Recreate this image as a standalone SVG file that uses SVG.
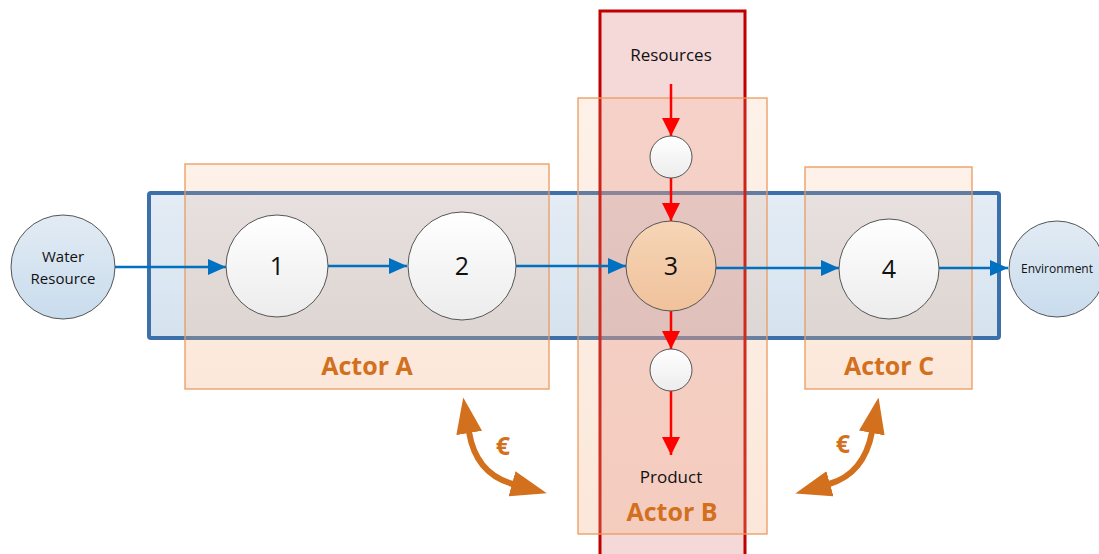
<svg xmlns="http://www.w3.org/2000/svg" width="1099" height="554" viewBox="0 0 1099 554">
<defs>
<linearGradient id="gBlue" x1="0" y1="0" x2="0" y2="1"><stop offset="0" stop-color="#e4ecf5"/><stop offset="1" stop-color="#d5e3ef"/></linearGradient>
<linearGradient id="gActor" x1="0" y1="0" x2="0" y2="1"><stop offset="0" stop-color="#f4b183" stop-opacity="0.18"/><stop offset="1" stop-color="#f4b183" stop-opacity="0.3"/></linearGradient>
<linearGradient id="gWhite" x1="0" y1="0" x2="0" y2="1"><stop offset="0" stop-color="#ffffff"/><stop offset="1" stop-color="#ececec"/></linearGradient>
<linearGradient id="gOrange" x1="0" y1="0" x2="0" y2="1"><stop offset="0" stop-color="#f6d5b6"/><stop offset="1" stop-color="#f0c29c"/></linearGradient>
<linearGradient id="gLight" x1="0" y1="0" x2="0" y2="1"><stop offset="0" stop-color="#e2ebf4"/><stop offset="1" stop-color="#c9dced"/></linearGradient>
<marker id="aBlue" markerUnits="userSpaceOnUse" markerWidth="18" markerHeight="16" viewBox="0 0 18 16" refX="18" refY="8" orient="auto"><path d="M0,0 L18,8 L0,16 z" fill="#0070c0"/></marker>
<marker id="aRed" markerUnits="userSpaceOnUse" markerWidth="18" markerHeight="18" viewBox="0 0 18 18" refX="18" refY="9" orient="auto"><path d="M0,0 L18,9 L0,18 z" fill="#ff0000"/></marker>
<marker id="aEuro" markerUnits="userSpaceOnUse" markerWidth="36" markerHeight="26" viewBox="0 0 36 26" refX="1" refY="13" orient="auto-start-reverse"><path d="M0,0 L36,13 L0,26 z" fill="#d2701e"/></marker>
<style>
.ln{font-family:"Open Sans","Liberation Sans",sans-serif;fill:#111;text-anchor:middle}
.actor{font-family:"Open Sans","Liberation Sans",sans-serif;font-weight:bold;fill:#d2701e;text-anchor:middle;font-size:25px}
.abox{fill:url(#gActor);stroke:#ec9a5e;stroke-width:1.3}
.nd{fill:url(#gWhite);stroke:#555;stroke-width:1}
.blue{stroke:#0070c0;stroke-width:2.5;fill:none;marker-end:url(#aBlue)}
.red{stroke:#ff0000;stroke-width:2.5;fill:none;marker-end:url(#aRed)}
.euro{stroke:#d2701e;stroke-width:6;fill:none;marker-start:url(#aEuro);marker-end:url(#aEuro)}
</style>
</defs>
<g id="system"><rect x="149" y="193" width="850" height="145" rx="2" fill="url(#gBlue)" stroke="#3b70aa" stroke-width="4"/></g>
<g id="resourceBand"><rect x="600" y="11" width="145" height="560" fill="#e08a8a" fill-opacity="0.33" stroke="#c00000" stroke-width="3"/></g>
<g id="actorA"><rect class="abox" x="185" y="164" width="364" height="225"/><text class="actor" x="367" y="375">Actor A</text></g>
<g id="actorB"><rect class="abox" x="578" y="98" width="189" height="436"/><text class="actor" x="672" y="521">Actor B</text></g>
<g id="actorC"><rect class="abox" x="805" y="167" width="167" height="222"/><text class="actor" x="889" y="375">Actor C</text></g>
<g id="connectors">
<line class="blue" x1="115" y1="267" x2="226" y2="267"/>
<line class="blue" x1="328" y1="266" x2="407" y2="266"/>
<line class="blue" x1="516" y1="266" x2="626" y2="266"/>
<line class="blue" x1="716" y1="268" x2="839" y2="268"/>
<line class="blue" x1="939" y1="268" x2="1008" y2="268"/>
<line class="red" x1="671" y1="84" x2="671" y2="136"/>
<line class="red" x1="671" y1="178" x2="671" y2="221"/>
<line class="red" x1="671" y1="311" x2="671" y2="349"/>
<line class="red" x1="671" y1="391" x2="671" y2="455"/>
<path class="euro" d="M469 432 Q476 474 513 484"/>
<path class="euro" d="M872 432 Q864 474 829 484"/>
<text class="actor" x="503" y="455" font-size="22">€</text>
<text class="actor" x="843" y="453" font-size="22">€</text>
</g>
<g id="water"><circle cx="63" cy="267" r="52" fill="url(#gLight)" stroke="#555" stroke-width="1"/><text class="ln" x="63" y="262" font-size="15">Water</text><text class="ln" x="63" y="284" font-size="15">Resource</text></g>
<g id="n1"><circle class="nd" cx="277" cy="266" r="51"/><text class="ln" x="277" y="275" font-size="25">1</text></g>
<g id="n2"><circle class="nd" cx="462" cy="266" r="54"/><text class="ln" x="462" y="275" font-size="25">2</text></g>
<g id="n3"><circle cx="671" cy="266" r="45" fill="url(#gOrange)" stroke="#555" stroke-width="1"/><text class="ln" x="671" y="275" font-size="25">3</text></g>
<g id="n4"><circle class="nd" cx="889" cy="269" r="50"/><text class="ln" x="889" y="278" font-size="25">4</text></g>
<g id="env"><circle cx="1057" cy="269" r="48" fill="url(#gLight)" stroke="#555" stroke-width="1"/><text class="ln" x="1057" y="273" font-size="12">Environment</text></g>
<g id="resIn"><circle class="nd" cx="671" cy="157" r="21"/></g>
<g id="resOut"><circle class="nd" cx="671" cy="370" r="21"/></g>
<g id="resources"><text class="ln" x="671" y="61" font-size="17">Resources</text></g>
<g id="product"><text class="ln" x="671" y="483" font-size="17">Product</text></g>
</svg>
